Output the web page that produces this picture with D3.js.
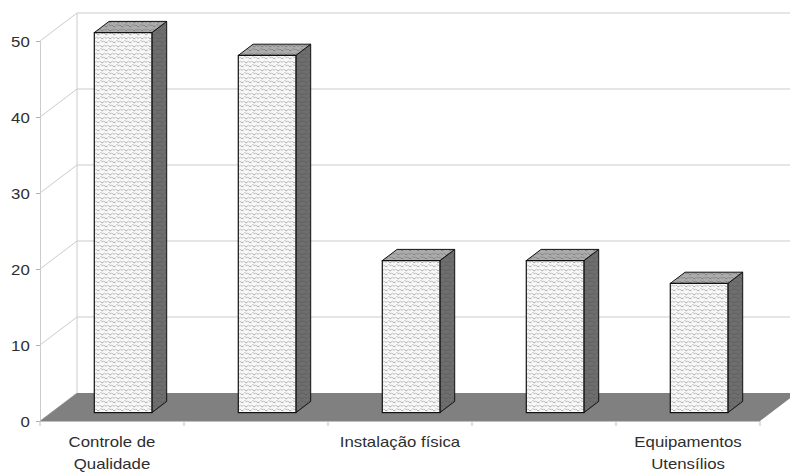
<!DOCTYPE html>
<html>
<head>
<meta charset="utf-8">
<script src="https://cdn.jsdelivr.net/npm/d3@7"></script>
<style>
  html, body { margin: 0; padding: 0; background: #fff; }
  svg { display: block; }
  text { font-family: "Liberation Sans", Arial, sans-serif; fill: #2e2e2e; }
</style>
</head>
<body>
<svg id="chart" width="790" height="472"></svg>
<script>
// Category labels (one entry per bar, lines of a wrapped label; empty = label skipped)
const categoryLabels = [
  ["Controle de", "Qualidade"],
  [],
  ["Instalação física"],
  [],
  ["Equipamentos", "Utensílios"]
];
const values = [50, 47, 20, 20, 17];
const yTicks = [0, 10, 20, 30, 40, 50];

const svg = d3.select("#chart");
const W = 790, H = 472;

// Oblique 3D projection: full depth of the plot box
const depth = { dx: 37, dy: -28 };
const barDepthStart = 0.3, barDepthEnd = 0.7;
const off = f => [depth.dx * f, depth.dy * f];

const x0 = 40, x1 = 760;
const idx = d3.range(values.length);
const x = d3.scaleBand().domain(idx).range([x0, x1]).paddingInner(0.6).paddingOuter(0.3);
const xEdge = d3.scaleLinear().domain([0, values.length]).range([x0, x1]);
const y = d3.scaleLinear().domain([0, 50]).range([421, 41]);

// Squiggle fill patterns for the bar faces
const defs = svg.append("defs");
function squiggle(id, bg, fg, sw) {
  const p = defs.append("pattern").attr("id", id).attr("patternUnits", "userSpaceOnUse")
    .attr("width", 8).attr("height", 8);
  p.append("rect").attr("width", 8).attr("height", 8).attr("fill", bg);
  p.append("path")
    .attr("d", "M0.5,1.5 L2,3 L3.5,2 M4.5,5.5 L6,7 L7.5,6 M5,0.5 L6.5,2 L7.5,1 M0.5,5 L2,6.5 L3,5.5")
    .attr("fill", "none").attr("stroke", fg).attr("stroke-width", sw)
    .attr("stroke-linecap", "round").attr("stroke-linejoin", "round");
}
squiggle("frontFill", "#f7f7f7", "#a6a6a6", 0.9);
squiggle("topFill", "#acacac", "#7c7c7c", 0.9);
squiggle("sideFill", "#6e6e6e", "#5a5a5a", 0.8);

const grid = "#cccccc";
const g = svg.append("g");

// Back wall gridlines and left wall diagonals
const [bdx, bdy] = off(1);
yTicks.forEach(t => {
  g.append("line").attr("x1", x0).attr("y1", y(t)).attr("x2", x0 + bdx).attr("y2", y(t) + bdy)
    .attr("stroke", grid).attr("stroke-width", 1);
  if (t > 0) {
    g.append("line").attr("x1", x0 + bdx).attr("y1", y(t) + bdy).attr("x2", W + 20).attr("y2", y(t) + bdy)
      .attr("stroke", grid).attr("stroke-width", 1.2);
  }
});
// back wall left edge
g.append("line").attr("x1", x0 + bdx).attr("x2", x0 + bdx)
  .attr("y1", y(0) + bdy).attr("y2", y(50) + bdy).attr("stroke", grid);

// Value axis (front)
const yAxis = g.append("g").attr("transform", `translate(${x0},0)`)
  .call(d3.axisLeft(y).tickValues(yTicks).tickSize(4).tickFormat(d3.format("d")));
yAxis.select(".domain").attr("stroke", grid);
yAxis.selectAll(".tick line").attr("stroke", "#b0b0b0");
yAxis.selectAll(".tick text")
  .attr("x", -8.5).attr("dy", "0.36em")
  .attr("transform", "scale(1.2,1)")
  .style("font-size", "14px").style("font-family", "Liberation Sans, Arial, sans-serif")
  .attr("fill", "#2e2e2e");

// Floor
const floorPts = [
  [x0, y(0)], [x1, y(0)], [x1 + bdx, y(0) + bdy], [x0 + bdx, y(0) + bdy]
];
g.append("polygon").attr("points", floorPts.map(p => p.join(",")).join(" "))
  .attr("fill", "#808080");

// Category axis line and ticks
g.append("line").attr("x1", x0).attr("x2", x1).attr("y1", y(0) + 0.5).attr("y2", y(0) + 0.5)
  .attr("stroke", "#c0c0c0");
d3.range(values.length + 1).forEach(i => {
  g.append("line").attr("x1", xEdge(i)).attr("x2", xEdge(i))
    .attr("y1", y(0)).attr("y2", y(0) + 5).attr("stroke", "#c0c0c0");
});

// Bars
const [fdx, fdy] = off(barDepthStart);
const [ddx, ddy] = off(barDepthEnd - barDepthStart);
const bars = g.selectAll(".bar").data(values).join("g").attr("class", "bar");
const pts = a => a.map(p => p.join(",")).join(" ");
bars.each(function(v, i) {
  const gb = d3.select(this);
  const L = x(i) + fdx, R = L + x.bandwidth();
  const B = y(0) + fdy, T = y(v) + fdy;
  // side face
  gb.append("polygon").attr("points", pts([[R, B], [R + ddx, B + ddy], [R + ddx, T + ddy], [R, T]]))
    .attr("fill", "url(#sideFill)").attr("stroke", "#111").attr("stroke-width", 1).attr("stroke-linejoin", "round");
  // top face
  gb.append("polygon").attr("points", pts([[L, T], [R, T], [R + ddx, T + ddy], [L + ddx, T + ddy]]))
    .attr("fill", "url(#topFill)").attr("stroke", "#111").attr("stroke-width", 1).attr("stroke-linejoin", "round");
  // front face
  gb.append("rect").attr("x", L).attr("y", T).attr("width", R - L).attr("height", B - T)
    .attr("fill", "url(#frontFill)").attr("stroke", "#111").attr("stroke-width", 1.2);
});

// Category labels
const labelG = g.append("g");
categoryLabels.forEach((lines, i) => {
  const cx = x(i) + x.bandwidth() / 2;
  lines.forEach((line, j) => {
    labelG.append("text")
      .attr("transform", `translate(${cx},${447 + j * 22}) scale(1.2,1)`)
      .attr("text-anchor", "middle")
      .style("font-size", "14px")
      .text(line);
  });
});
</script>
</body>
</html>
